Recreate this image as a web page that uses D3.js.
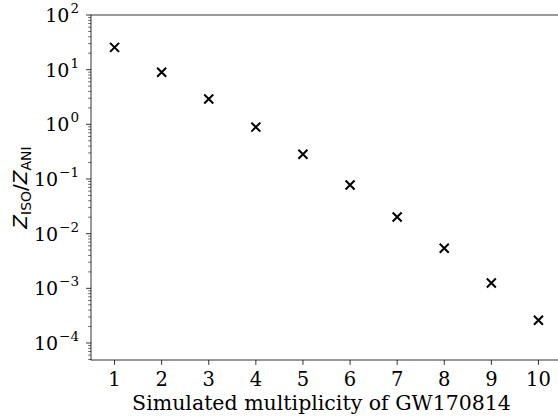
<!DOCTYPE html>
<html>
<head>
<meta charset="utf-8">
<script src="https://cdn.jsdelivr.net/npm/d3@7"></script>
<style>
  body { margin: 0; background: #fff; }
  text { font-family: "DejaVu Serif", serif; }
</style>
</head>
<body>
<script>
// multiplicity of GW170814 and evidence ratio
const multiplicity = [1, 2, 3, 4, 5, 6, 7, 8, 9, 10];
const ratio = [25.6, 8.95, 2.91, 0.89, 0.283, 0.0777, 0.0202, 0.0054, 0.00125, 0.00026];
const xTicks = [1, 2, 3, 4, 5, 6, 7, 8, 9, 10];
const yDecades = [-4, -3, -2, -1, 0, 1, 2];

const width = 558, height = 418;
const margin = {left: 91, top: 15, right: -4, bottom: 58};

const svg = d3.select("body").append("svg").attr("width", width).attr("height", height);

const x = d3.scaleLinear().domain([0.5, 10.5]).range([margin.left, width - margin.right]);
const y = d3.scaleLog().domain([Math.pow(10, -4.311), 100]).range([height - margin.bottom, margin.top]);

const plot = svg.append("g");

// spines
plot.append("rect")
    .attr("x", margin.left).attr("y", margin.top)
    .attr("width", x(10.5) - margin.left).attr("height", y.range()[0] - margin.top)
    .style("fill", "none").style("stroke", "black").style("stroke-width", 0.8);

// x ticks
const xg = svg.append("g");
xg.selectAll("line").data(xTicks).enter().append("line")
    .attr("x1", d => x(d)).attr("x2", d => x(d))
    .attr("y1", y.range()[0]).attr("y2", y.range()[0] + 4.9)
    .style("stroke", "black").style("stroke-width", 0.8);
xg.selectAll("text").data(xTicks).enter().append("text")
    .attr("x", d => x(d)).attr("y", y.range()[0] + 26)
    .attr("text-anchor", "middle").attr("font-size", 19.5)
    .text(d => d);

// y ticks
const minors = [];
yDecades.forEach(e => { for (let k = 2; k <= 9; k++) minors.push(k * Math.pow(10, e - 1)); });
const [ylo, yhi] = y.domain();
const minorIn = minors.filter(v => v >= ylo && v <= yhi);

const yg = svg.append("g");
yg.selectAll("line.minor").data(minorIn).enter().append("line")
    .attr("class", "minor")
    .attr("x1", margin.left - 2.8).attr("x2", margin.left)
    .attr("y1", d => y(d)).attr("y2", d => y(d))
    .style("stroke", "black").style("stroke-width", 0.6);
yg.selectAll("line.major").data(yDecades).enter().append("line")
    .attr("class", "major")
    .attr("x1", margin.left - 4.9).attr("x2", margin.left)
    .attr("y1", d => y(Math.pow(10, d))).attr("y2", d => y(Math.pow(10, d)))
    .style("stroke", "black").style("stroke-width", 0.8);

const lbl = yg.selectAll("text").data(yDecades).enter().append("text")
    .attr("x", margin.left - 12).attr("y", d => y(Math.pow(10, d)) + 7)
    .attr("text-anchor", "end").attr("font-size", 19);
lbl.append("tspan").text("10");
lbl.append("tspan").attr("dy", -9).attr("dx", 1).attr("font-size", 13.5)
    .text(d => d < 0 ? "\u2212" + (-d) : d);

// markers
const s = 4.5;
const marks = svg.append("g").selectAll("g").data(multiplicity).enter().append("g")
    .attr("transform", (d, i) => `translate(${x(d)},${y(ratio[i])})`);
marks.append("path")
    .attr("d", `M${-s},${-s}L${s},${s}M${-s},${s}L${s},${-s}`)
    .style("stroke", "black").style("stroke-width", 2).style("fill", "none");

// axis labels
svg.append("text")
    .attr("x", (margin.left + x(10.5)) / 2 - 5).attr("y", height - 8)
    .attr("text-anchor", "middle").attr("font-size", 20.5)
    .text("Simulated multiplicity of GW170814");

const yl = svg.append("text")
    .attr("transform", `translate(27,${(margin.top + y.range()[0]) / 2}) rotate(-90)`)
    .attr("text-anchor", "middle").attr("font-size", 20)
    .style("font-family", "DejaVu Sans");
yl.append("tspan").attr("font-style", "italic").text("Z");
yl.append("tspan").attr("font-size", 14).attr("dy", 4).text("ISO");
yl.append("tspan").attr("dy", -4).text("/");
yl.append("tspan").attr("font-style", "italic").text("Z");
yl.append("tspan").attr("font-size", 14).attr("dy", 4).text("ANI");
</script>
</body>
</html>
